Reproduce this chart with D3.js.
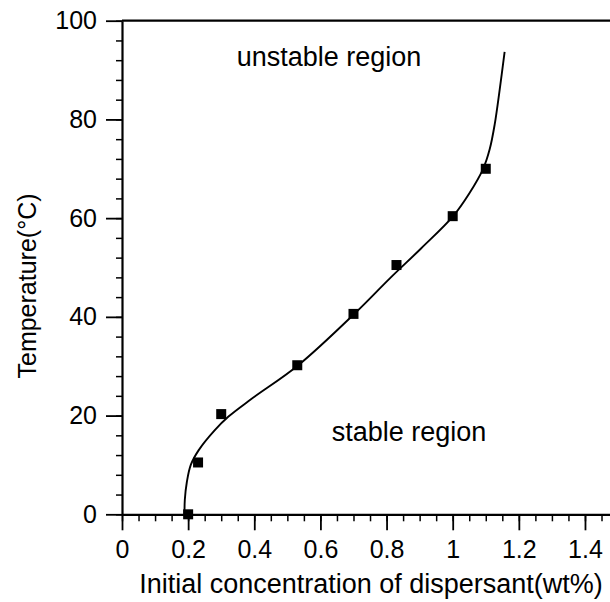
<!DOCTYPE html>
<html>
<head>
<meta charset="utf-8">
<script src="https://cdn.jsdelivr.net/npm/d3@7"></script>
<style>
  body { margin: 0; background: #fff; }
  svg text { font-family: "Liberation Sans", Arial, sans-serif; fill: #000; }
</style>
</head>
<body>
<div id="chart"></div>
<script>
// measured points
var concentration = [0.2, 0.23, 0.3, 0.53, 0.7, 0.83, 1.0, 1.1];
var temperature = [0, 10.5, 20.3, 30.2, 40.6, 50.5, 60.4, 70];

// fitted boundary curve
var curveX = [0.189, 0.190, 0.196, 0.208, 0.232, 0.28, 0.322, 0.39, 0.533, 0.704, 0.81, 0.905, 1.0, 1.05, 1.092, 1.112, 1.127, 1.142, 1.157];
var curveY = [0, 3, 6.5, 10, 13, 17, 19.8, 23.3, 30.2, 40.7, 47.8, 53.9, 60.3, 65, 70, 74, 79, 86, 93.7];

var xTicks = [0, 0.2, 0.4, 0.6, 0.8, 1, 1.2, 1.4];
var xTickLabels = ["0", "0.2", "0.4", "0.6", "0.8", "1", "1.2", "1.4"];
var yTicks = [0, 20, 40, 60, 80, 100];

function init() {
    var w = 610;
    var h = 602;
    var left = 122, top = 20.7, bottom = 514.3;

    var xScale = d3.scaleLinear()
        .domain([0, 1.5])
        .range([left, left + 1.5 * 330.7]);

    var yScale = d3.scaleLinear()
        .domain([0, 100])
        .range([bottom, top]);

    var svg = d3.select("#chart")
        .append("svg")
        .attr("width", w)
        .attr("height", h);

    // minor ticks
    svg.append("g")
        .attr("transform", "translate(0," + bottom + ")")
        .call(d3.axisBottom(xScale).tickValues(d3.range(0, 1.51, 0.05)).tickSize(7).tickFormat(""))
        .call(function (g) { g.select(".domain").remove(); })
        .selectAll("line").attr("stroke-width", 1.5);

    svg.append("g")
        .attr("transform", "translate(" + left + ",0)")
        .call(d3.axisLeft(yScale).tickValues(d3.range(0, 101, 4)).tickSize(6).tickFormat(""))
        .call(function (g) { g.select(".domain").remove(); })
        .selectAll("line").attr("stroke-width", 1.5);

    // major axes
    var xAxis = svg.append("g")
        .attr("transform", "translate(0," + bottom + ")")
        .call(d3.axisBottom(xScale)
            .tickValues(xTicks)
            .tickSize(16)
            .tickSizeOuter(0)
            .tickPadding(10)
            .tickFormat(function (d, i) { return xTickLabels[i]; }));
    xAxis.select(".domain").attr("stroke-width", 2.2);
    xAxis.selectAll("line").attr("stroke-width", 1.8);
    xAxis.selectAll("text").attr("font-size", 25).attr("font-family", "Liberation Sans, Arial, sans-serif");

    var yAxis = svg.append("g")
        .attr("transform", "translate(" + left + ",0)")
        .call(d3.axisLeft(yScale)
            .tickValues(yTicks)
            .tickSize(16)
            .tickSizeOuter(0)
            .tickPadding(9));
    yAxis.select(".domain").attr("stroke-width", 2.2);
    yAxis.selectAll("line").attr("stroke-width", 1.8);
    yAxis.selectAll("text").attr("font-size", 25).attr("font-family", "Liberation Sans, Arial, sans-serif");

    // top frame line
    svg.append("line")
        .attr("x1", left)
        .attr("x2", xScale(1.5))
        .attr("y1", top)
        .attr("y2", top)
        .attr("stroke", "#000")
        .attr("stroke-width", 2.2);

    // boundary curve
    var line = d3.line()
        .x(function (d) { return xScale(d[0]); })
        .y(function (d) { return yScale(d[1]); })
        .curve(d3.curveCatmullRom.alpha(0.5));

    svg.append("path")
        .datum(d3.zip(curveX, curveY))
        .attr("d", line)
        .attr("fill", "none")
        .attr("stroke", "#000")
        .attr("stroke-width", 1.9);

    // data squares
    var s = 10;
    svg.selectAll(".pt")
        .data(d3.zip(concentration, temperature))
        .enter()
        .append("rect")
        .attr("class", "pt")
        .attr("x", function (d) { return xScale(d[0]) - s / 2; })
        .attr("y", function (d) { return yScale(d[1]) - s / 2; })
        .attr("width", s)
        .attr("height", s)
        .attr("fill", "#000");

    // region labels
    svg.append("text")
        .attr("x", 329)
        .attr("y", 66)
        .attr("text-anchor", "middle")
        .attr("font-size", 27)
        .text("unstable region");

    svg.append("text")
        .attr("x", 409)
        .attr("y", 441)
        .attr("text-anchor", "middle")
        .attr("font-size", 27)
        .text("stable region");

    // axis titles
    svg.append("text")
        .attr("x", 371)
        .attr("y", 593)
        .attr("text-anchor", "middle")
        .attr("font-size", 27)
        .text("Initial concentration of dispersant(wt%)");

    svg.append("text")
        .attr("transform", "translate(36,286) rotate(-90)")
        .attr("text-anchor", "middle")
        .attr("font-size", 25)
        .text("Temperature(°C)");
}

window.onload = init;
</script>
</body>
</html>
